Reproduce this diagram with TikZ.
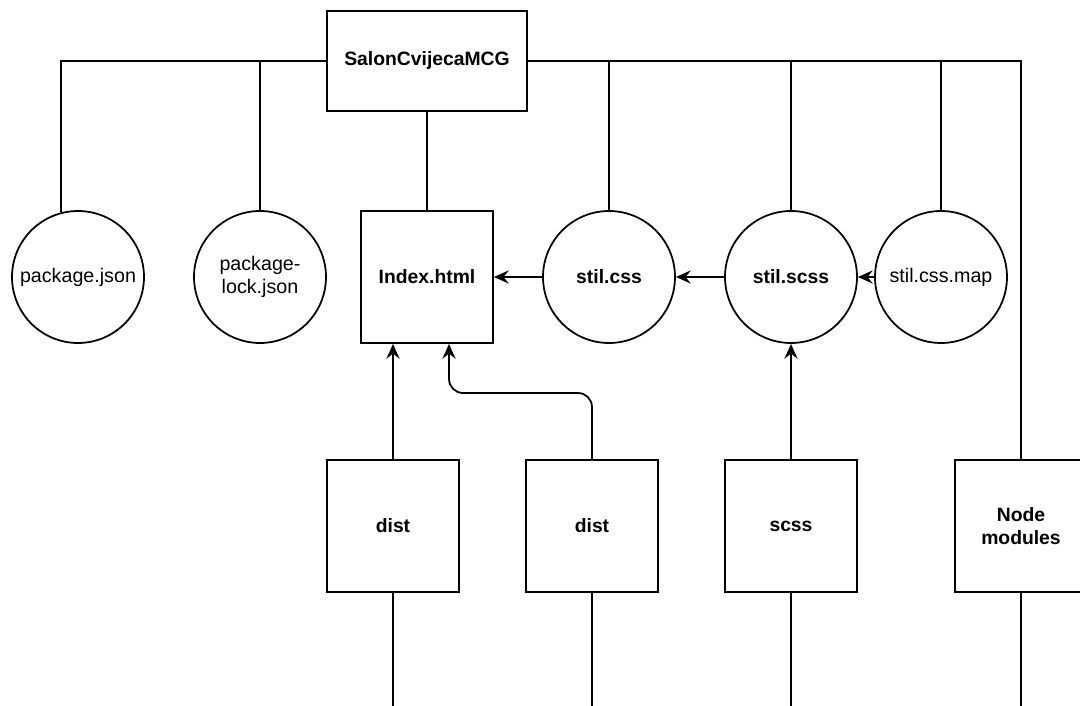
\documentclass[tikz,border=0pt]{standalone}
\usepackage{fontspec}
\setmainfont{Liberation Sans}
\usepackage{tikz}
\usetikzlibrary{calc,shapes,arrows,arrows.meta,positioning}
\newcommand{\boxsize}{2.64cm}
\newcommand{\boldlabel}{\fontsize{11}{13.5}\selectfont\bfseries}
\tikzstyle{folder}=[draw, rectangle, minimum width=\boxsize, minimum height=\boxsize, inner sep=0, line width=1pt, font=\boldlabel]
\tikzstyle{file}=[draw, circle, minimum size=\boxsize, inner sep=0, line width=1pt, align=center]
\tikzstyle{arrow}=[-{Stealth[length=8.5pt, width=7.5pt, inset=3pt]}, line width=1pt]
\tikzstyle{edge}=[-, line width=1pt]

\begin{document}
\begin{tikzpicture}[x=0.02cm, y=-0.02cm, font=\fontsize{11.2}{13.5}\selectfont]
  \useasboundingbox (0,0) rectangle (1080,706);
  \clip (0,0) rectangle (1080,706);

  \node[folder, minimum width=4cm, minimum height=2cm] (root) at (427,61) {SalonCvijecaMCG};

  \node[file] (pkg) at (78,277) {package.json};
  \node[file] (pkglock) at (260,277) {package-\\lock.json};
  \node[folder] (index) at (427,277) {Index.html};
  \node[file, font=\boldlabel] (stilcss) at (609,277) {stil.css};
  \node[file, font=\boldlabel] (stilscss) at (791,277) {stil.scss};
  \node[file] (cssmap) at (941,277) {stil.css.map};

  \node[folder] (dist1) at (393,526) {dist};
  \node[folder] (dist2) at (592,526) {dist};
  \node[folder] (scss) at (791,526) {scss};
  \node[folder, align=center] (nodemod) at (1021,526) {Node\\modules};

  \coordinate (bend) at (449,393);
  \coordinate (end1) at (393,710);
  \coordinate (end2) at (592,710);
  \coordinate (end3) at (791,710);
  \coordinate (end4) at (1021,710);

  \draw[edge] (root.west) -| (pkg.105);
  \draw[edge] (root.west) -| (pkglock.north);
  \draw[edge] (root.south) -- (index.north);
  \draw[edge] (root.east) -| (stilcss.north);
  \draw[edge] (root.east) -| (stilscss.north);
  \draw[edge] (root.east) -| (cssmap.north);
  \draw[edge] (root.east) -| (nodemod.north);

  \draw[arrow] (stilcss) -- (index);
  \draw[arrow] (stilscss) -- (stilcss);
  \draw[arrow] (cssmap) -- (stilscss);

  \draw[arrow] (dist1.north) -- (dist1.north |- index.south);
  \draw[arrow, rounded corners=8pt] (dist2.north) |- (bend) -- (bend |- index.south);
  \draw[arrow] (scss.north) -- (stilscss.south);

  \draw[edge] (dist1.south) -- (end1);
  \draw[edge] (dist2.south) -- (end2);
  \draw[edge] (scss.south) -- (end3);
  \draw[edge] (nodemod.south) -- (end4);
\end{tikzpicture}
\end{document}
